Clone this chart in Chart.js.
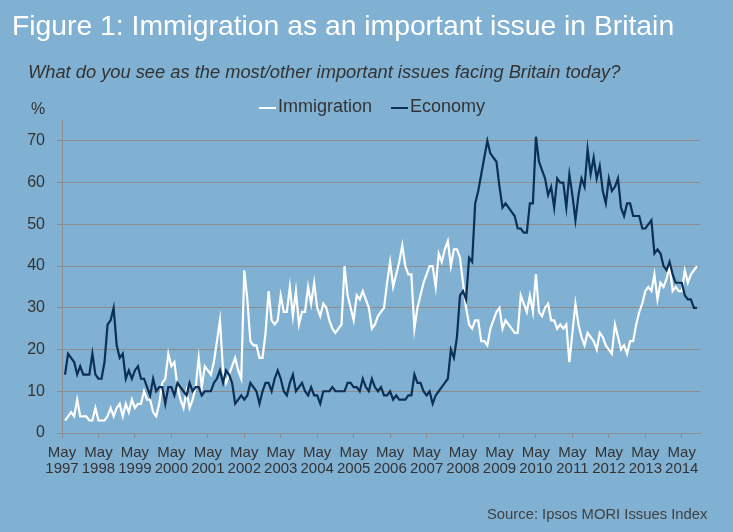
<!DOCTYPE html>
<html><head><meta charset="utf-8">
<script src="https://cdn.jsdelivr.net/npm/chart.js@4.4.1/dist/chart.umd.min.js"></script>
<style>
html,body{margin:0;padding:0;background:#80B1D3;}
body{width:733px;height:532px;overflow:hidden;}
#wrap{position:relative;width:733px;height:532px;background:#80B1D3;font-family:"Liberation Sans",Arial,Helvetica,sans-serif;}
#title{position:absolute;left:12px;top:8px;font-size:28.3px;line-height:34px;color:#fff;white-space:nowrap;}
#sub{position:absolute;left:28px;top:61px;font-size:18.3px;line-height:22px;font-style:italic;color:#333;white-space:nowrap;}
.leg{position:absolute;top:95px;font-size:18px;line-height:22px;color:#333;white-space:nowrap;}
.sw{position:absolute;top:107px;width:17px;height:2px;}
#pct{position:absolute;left:31px;top:100px;font-size:16px;line-height:18px;color:#333;}
#src{position:absolute;left:487px;top:505px;font-size:14.8px;line-height:18px;color:#404040;white-space:nowrap;}
#c{position:absolute;left:0;top:0;}
</style>
</head><body>
<div id="wrap">
  <canvas id="c" width="733" height="532"></canvas>
  <div id="title">Figure 1: Immigration as an important issue in Britain</div>
  <div id="sub">What do you see as the most/other important issues facing Britain today?</div>
  <div class="sw" style="left:259px;background:#ffffff"></div>
  <div class="leg" style="left:278px">Immigration</div>
  <div class="sw" style="left:391px;background:#0C2F55"></div>
  <div class="leg" style="left:410px">Economy</div>
  <div id="pct">%</div>
  <div id="src">Source: Ipsos MORI Issues Index</div>
</div>
<script>
// Monthly readings, June 1997 onwards (months after May 1997 = index + 1)
const firstYear = 1997;
const seriesNames = ["Immigration", "Economy"];
const immigration = [
  3,4,5,4,8,4,4,4,3,3,6,3,
  3,3,4,6,4,6,7,4,7,5,8,6,
  7,7,10,8,8,5,4,7,12,13,19,16,
  17,11,8,6,10,6,8,11,18,11,16,15,
  14,17,22,27,15,12,14,16,18,15,13,39,
  32,22,21,21,18,18,24,34,27,26,27,33,
  29,29,35,28,34,26,29,29,35,31,36,30,
  28,31,30,27,25,24,25,26,40,33,30,27,
  33,32,34,32,30,25,26,28,29,30,36,41,
  35,38,41,45,40,38,38,25,30,33,36,38,
  40,40,35,43,41,44,46,40,44,44,42,36,
  30,26,25,27,27,22,22,21,25,27,29,30,
  25,27,26,25,24,24,33,31,29,33,29,38,
  29,28,30,31,27,27,25,26,25,26,17,24,
  31,26,23,21,24,23,22,20,24,23,21,20,
  19,26,23,20,21,19,22,22,26,29,31,34,
  35,34,38,32,36,35,37,40,34,35,34,34,
  39,36,38,39,40
];
const economy = [
  14,19,18,17,14,16,14,14,14,19,14,13,
  13,17,26,27,30,21,18,19,13,15,13,15,
  16,13,13,11,9,13,10,11,11,7,11,11,
  9,12,11,10,9,12,10,11,11,9,10,10,
  10,12,13,15,12,15,14,12,7,8,9,8,
  9,12,11,10,7,10,12,12,10,13,15,13,
  10,9,12,14,10,11,12,10,9,11,9,9,
  7,10,10,10,11,10,10,10,10,12,12,11,
  11,10,13,11,10,13,11,10,11,9,9,10,
  8,9,8,8,8,9,9,14,12,12,10,9,
  10,7,9,10,11,12,13,20,18,23,33,34,
  32,42,41,55,58,62,66,70,67,66,65,59,
  54,55,54,53,52,49,49,48,48,55,55,71,
  65,63,61,57,59,54,61,60,60,54,62,57,
  51,57,61,59,68,62,66,61,64,58,55,61,
  58,59,61,54,52,55,55,52,52,52,49,49,
  50,51,43,44,43,40,39,41,38,36,36,36,
  33,32,32,30,30
];
const yTicks = [0,10,20,30,40,50,60,70];
const tickMonth = "May";

const toPoints = arr => arr.map((v, i) => ({x: i + 1, y: v}));
const GRID = '#8C8C8C';

new Chart(document.getElementById('c'), {
  type: 'line',
  data: {
    datasets: [
      {label: seriesNames[0], data: toPoints(immigration), borderColor: '#ffffff', borderWidth: 2.2,
       pointRadius: 0, tension: 0, fill: false, order: 2},
      {label: seriesNames[1], data: toPoints(economy), borderColor: '#0C2F55', borderWidth: 2.2,
       pointRadius: 0, tension: 0, fill: false, order: 1}
    ]
  },
  options: {
    responsive: false,
    animation: false,
    events: [],
    layout: {padding: {top: 120, right: 33, left: 0, bottom: 0}},
    plugins: {legend: {display: false}, title: {display: false}, tooltip: {enabled: false}},
    scales: {
      x: {
        type: 'linear', min: 0, max: 210,
        afterFit: s => { s.height = 99; },
        afterBuildTicks: s => { s.ticks = []; for (let v = 0; v <= 204; v += 12) s.ticks.push({value: v}); },
        ticks: {
          autoSkip: false, maxRotation: 0, minRotation: 0, padding: 7,
          color: '#333', font: {family: '"Liberation Sans", Arial, sans-serif', size: 15, lineHeight: '16px'},
          callback: v => [tickMonth, String(firstYear + v / 12)]
        },
        grid: {drawOnChartArea: false, drawTicks: true, tickLength: 5, color: GRID},
        border: {display: true, color: GRID, width: 1}
      },
      y: {
        min: 0, max: 75,
        afterFit: s => { s.width = 62; },
        afterBuildTicks: s => { s.ticks = yTicks.map(v => ({value: v})); },
        ticks: {padding: 12, color: '#333', font: {family: '"Liberation Sans", Arial, sans-serif', size: 16}},
        grid: {color: GRID, lineWidth: 1, tickLength: 5, drawTicks: true},
        border: {display: true, color: GRID, width: 1}
      }
    }
  }
});
</script>
</body></html>
